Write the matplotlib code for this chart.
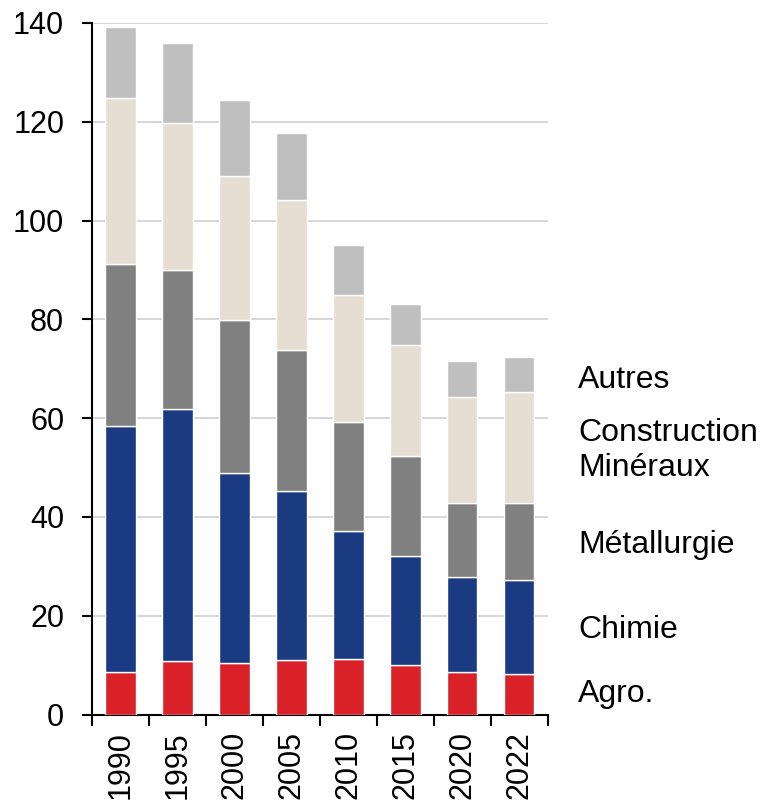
import matplotlib
matplotlib.use("Agg")
import matplotlib.pyplot as plt
import numpy as np

years = ["1990", "1995", "2000", "2005", "2010", "2015", "2020", "2022"]
agro = [8.6, 10.8, 10.5, 11.0, 11.2, 10.0, 8.6, 8.3]
chimie = [49.8, 51.1, 38.3, 34.2, 25.9, 22.0, 19.2, 18.9]
metallurgie = [32.9, 28.0, 31.1, 28.6, 22.1, 20.4, 15.0, 15.7]
construction = [33.6, 29.8, 29.1, 30.3, 25.7, 22.5, 21.5, 22.4]
autres = [14.2, 16.2, 15.5, 13.7, 10.1, 8.3, 7.3, 7.1]

series = [
    ("Agro.", agro, "#DA2128"),
    ("Chimie", chimie, "#1A3A82"),
    ("Métallurgie", metallurgie, "#808080"),
    ("Construction\nMinéraux", construction, "#E6DDD3"),
    ("Autres", autres, "#BFBFBF"),
]
# vertical position of the right-hand labels (data units)
label_y = [4.1, 17.1, 34.3, 53.4, 67.8]

plt.rcParams["font.family"] = ["Liberation Sans", "DejaVu Sans"]

fig = plt.figure(figsize=(7.62, 8.09), dpi=100)
ax = fig.add_axes([0.1207, 0.1168, 0.719 - 0.1207, 0.9716 - 0.1168])

x = np.arange(len(years))
bottom = np.zeros(len(years))
for name, vals, col in series:
    ax.bar(x, vals, width=0.53, bottom=bottom, color=col,
           edgecolor="white", linewidth=1, zorder=3)
    bottom += np.array(vals)

for (name, vals, col), ly in zip(series, label_y):
    ax.text(len(years) - 0.5 + 0.53, ly, name, fontsize=23, va="center",
            ha="left", linespacing=1.22, clip_on=False)

ax.set_xlim(-0.5, len(years) - 0.5)
ax.set_ylim(0, 140)
ax.set_yticks(range(0, 141, 20))
ax.yaxis.grid(True, color="#d0d0d0", linewidth=1.2, zorder=0)
ax.set_axisbelow(True)

ax.set_xticks(x)
ax.set_xticklabels(years, rotation=90)
ax.set_xticks(np.arange(-0.5, len(years)), minor=True)
ax.tick_params(axis="x", which="major", length=0, labelsize=22, pad=12)
ax.tick_params(axis="x", which="minor", length=8, width=1.5)
ax.tick_params(axis="y", length=7, width=1.5, labelsize=22, pad=13)

for s in ["top", "right"]:
    ax.spines[s].set_visible(False)
for s in ["left", "bottom"]:
    ax.spines[s].set_linewidth(1.5)

fig.savefig("out.png", dpi=100)
